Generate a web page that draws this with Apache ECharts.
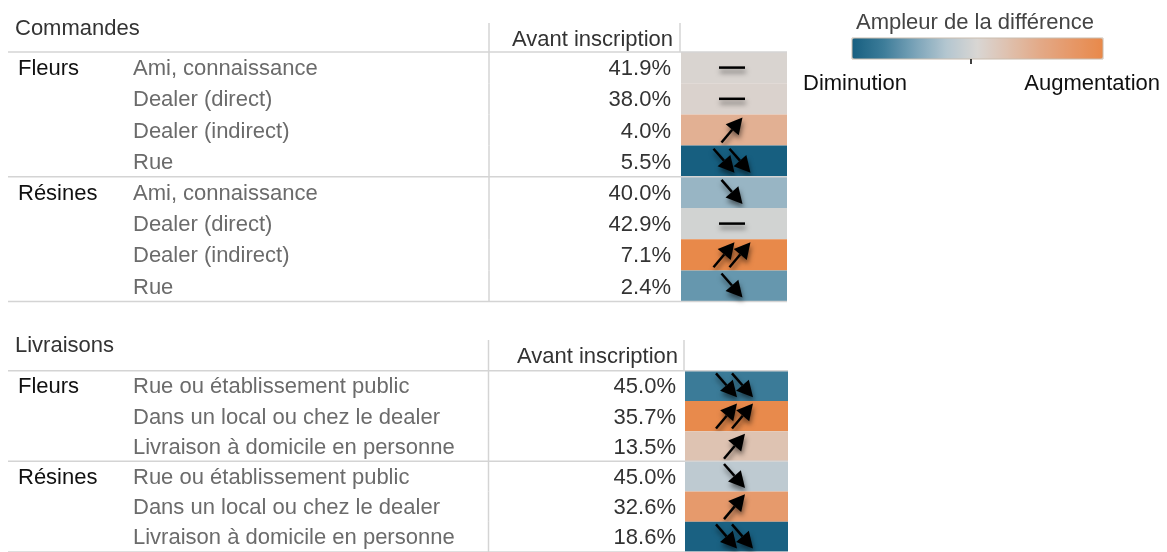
<!DOCTYPE html>
<html>
<head>
<meta charset="utf-8">
<title>Commandes et livraisons</title>
<script src="https://cdn.jsdelivr.net/npm/echarts/dist/echarts.min.js"></script>
<style>
html, body { margin: 0; padding: 0; background: #fff; }
#chart { width: 1167px; height: 552px; }
</style>
</head>
<body>
<div id="chart"></div>
<script>
// ---- données : commandes ----
var cmdGroups   = ['Fleurs', 'Fleurs', 'Fleurs', 'Fleurs', 'Résines', 'Résines', 'Résines', 'Résines'];
var cmdChannels = ['Ami, connaissance', 'Dealer (direct)', 'Dealer (indirect)', 'Rue',
                   'Ami, connaissance', 'Dealer (direct)', 'Dealer (indirect)', 'Rue'];
var cmdAvant    = [41.9, 38.0, 4.0, 5.5, 40.0, 42.9, 7.1, 2.4];
var cmdEcart    = [0.02, 0.04, 0.42, -1.0, -0.37, -0.05, 1.0, -0.58];   // ampleur de la différence
var cmdTendance = [0, 0, 1, -2, -1, 0, 2, -1];                          // nb de flèches (+ hausse / - baisse)

// ---- données : livraisons ----
var livGroups   = ['Fleurs', 'Fleurs', 'Fleurs', 'Résines', 'Résines', 'Résines'];
var livChannels = ['Rue ou établissement public', 'Dans un local ou chez le dealer', 'Livraison à domicile en personne',
                   'Rue ou établissement public', 'Dans un local ou chez le dealer', 'Livraison à domicile en personne'];
var livAvant    = [45.0, 35.7, 13.5, 45.0, 32.6, 18.6];
var livEcart    = [-0.76, 0.98, 0.22, -0.18, 0.72, -0.98];
var livTendance = [-2, 2, 1, -1, 1, -2];

var headerLabel = 'Avant inscription';
var legendTitle = 'Ampleur de la différence';
var legendEnds  = ['Diminution', 'Augmentation'];

var FONT = '"Liberation Sans", Arial, Helvetica, sans-serif';
var FS = 22;
var DY = 1.5; // petit décalage vertical du texte
var LINE = '#d4d4d4';
var SHADOW = { shadowBlur: 5, shadowOffsetX: 1, shadowOffsetY: 4, shadowColor: 'rgba(0,0,0,0.5)' };

var layoutCmd = { group: 18, channel: 133, pctRight: 671, cellLeft: 681, cellRight: 787, vline: 489, lineLeft: 8 };
var layoutLiv = { group: 18, channel: 133, pctRight: 676, cellLeft: 685, cellRight: 788, vline: 488.5, lineLeft: 8 };

function txt(x, y, s, color, align)
{
    return {
        type : 'text', x : x, y : y + DY, silent : true,
        style : { text : s, fill : color, align : align, verticalAlign : 'middle', fontSize : FS, fontFamily : FONT }
    };
}

function hline(x1, x2, y)
{
    return { type : 'line', silent : true, shape : { x1 : x1, y1 : y, x2 : x2, y2 : y }, style : { stroke : LINE, lineWidth : 1.5 } };
}

//flèche pleine de (x1,y1) vers (x2,y2)
function arrow(x1, y1, x2, y2)
{
    var a = Math.atan2(y2 - y1, x2 - x1);
    var hl = 16, hw = 8.5;
    var bx = x2 - hl * Math.cos(a), by = y2 - hl * Math.sin(a);
    var px = -Math.sin(a) * hw, py = Math.cos(a) * hw;
    return [
        { type : 'line', silent : true, shape : { x1 : x1, y1 : y1, x2 : bx, y2 : by },
          style : echarts.util.extend({ stroke : '#000', lineWidth : 2.5 }, SHADOW) },
        { type : 'polygon', silent : true, shape : { points : [[x2, y2], [bx + px, by + py], [bx - px, by - py]] },
          style : echarts.util.extend({ fill : '#000' }, SHADOW) }
    ];
}

function makeRenderItem(lay, groups, channels)
{
    return function (params, api) {
        var i = params.dataIndex;
        var cy = api.coord([0, api.value(0)])[1];
        var h = api.size([0, 1])[1];
        var top = cy - h / 2, bot = cy + h / 2;
        var cx = (lay.cellLeft + lay.cellRight) / 2 - 2;
        var kids = [];

        kids.push({ type : 'rect', shape : { x : lay.cellLeft, y : top, width : lay.cellRight - lay.cellLeft, height : h },
                    style : { fill : api.visual('color') } });
        kids.push({ type : 'line', silent : true, shape : { x1 : lay.vline, y1 : top, x2 : lay.vline, y2 : bot },
                    style : { stroke : LINE, lineWidth : 1.5 } });

        if (i === 0 || groups[i] !== groups[i - 1]) {
            kids.push(txt(lay.group, cy, groups[i], '#111', 'left'));
            kids.push(hline(lay.lineLeft, lay.cellRight, top));
        }
        if (i === groups.length - 1) {
            kids.push(hline(lay.lineLeft, lay.cellRight, bot));
        }
        kids.push(txt(lay.channel, cy, channels[i], '#6b6b6b', 'left'));
        kids.push(txt(lay.pctRight, cy, api.value(1).toFixed(1) + '%', '#333', 'right'));

        var t = api.value(3);
        if (t === 0) {
            kids.push({ type : 'line', silent : true, shape : { x1 : cx - 13, y1 : cy, x2 : cx + 13, y2 : cy },
                        style : echarts.util.extend({ stroke : '#000', lineWidth : 2.5 }, SHADOW) });
        } else {
            var offs = Math.abs(t) === 1 ? [0] : [-8, 8];
            for (var k = 0; k < offs.length; k++) {
                var x0 = cx + offs[k];
                var a = t > 0 ? arrow(x0 - 10.5, cy + 12.5, x0 + 10.5, cy - 12.5)
                              : arrow(x0 - 10.5, cy - 12.5, x0 + 10.5, cy + 11.5);
                kids = kids.concat(a);
            }
        }
        return { type : 'group', children : kids };
    };
}

function rows(avant, ecart, tendance)
{
    var out = [];
    for (var i = 0; i < avant.length; i++) {
        out.push([i, avant[i], ecart[i], tendance[i]]);
    }
    return out;
}

function indexes(n)
{
    var out = [];
    for (var i = 0; i < n; i++) out.push(i);
    return out;
}

function headerGraphics(titre, titleY, headerY, lineY, lay, vline2)
{
    return [
        txt(15, titleY, titre, '#333', 'left'),
        txt(lay.pctRight + 2, headerY, headerLabel, '#333', 'right'),
        { type : 'line', silent : true, shape : { x1 : lay.vline, y1 : titleY - 4, x2 : lay.vline, y2 : lineY }, style : { stroke : LINE, lineWidth : 1.5 } },
        { type : 'line', silent : true, shape : { x1 : vline2, y1 : titleY - 4, x2 : vline2, y2 : lineY }, style : { stroke : LINE, lineWidth : 1.5 } }
    ];
}

var myChart = echarts.init(document.getElementById('chart'));

var graphics = []
    .concat(headerGraphics('Commandes', 27, 38, 52, layoutCmd, 680))
    .concat(headerGraphics('Livraisons', 344, 355, 370.7, layoutLiv, 684))
    .concat([
        txt(975, 21, legendTitle, '#444', 'center'),
        txt(803, 82, legendEnds[0], '#111', 'left'),
        txt(1160, 82, legendEnds[1], '#111', 'right'),
        { type : 'rect', silent : true, z : 10, shape : { x : 852, y : 38, width : 251, height : 21 },
          style : { fill : 'none', stroke : '#c9bcae', lineWidth : 1 } },
        { type : 'line', silent : true, z : 10, shape : { x1 : 971, y1 : 59, x2 : 971, y2 : 64 },
          style : { stroke : '#000', lineWidth : 1.5 } }
    ]);

var options = {
    animation : false,
    backgroundColor : '#fff',
    grid : [
        { left : 0, right : 0, top : 52, height : 31.2 * cmdAvant.length },
        { left : 0, right : 0, top : 370.7, height : 31.2 * livAvant.length }
    ],
    xAxis : [
        { gridIndex : 0, type : 'value', min : 0, max : 1167, show : false },
        { gridIndex : 1, type : 'value', min : 0, max : 1167, show : false }
    ],
    yAxis : [
        { gridIndex : 0, type : 'category', data : indexes(cmdAvant.length), inverse : true, show : false },
        { gridIndex : 1, type : 'category', data : indexes(livAvant.length), inverse : true, show : false }
    ],
    visualMap : {
        type : 'continuous',
        orient : 'horizontal',
        min : -1,
        max : 1,
        dimension : 2,
        seriesIndex : [0, 1],
        left : 852,
        top : 38,
        padding : 0,
        itemWidth : 21,
        itemHeight : 251,
        calculable : false,
        hoverLink : false,
        inRange : {
            color : ['#175f80', '#3d7c99', '#7aa3b8', '#b3c6d0', '#d9d6d3', '#dfc0ad', '#e3a987', '#e69868', '#e8894a']
        }
    },
    graphic : graphics,
    series : [
        {
            name : 'Commandes',
            type : 'custom',
            xAxisIndex : 0,
            yAxisIndex : 0,
            encode : { x : 1, y : 0 },
            renderItem : makeRenderItem(layoutCmd, cmdGroups, cmdChannels),
            data : rows(cmdAvant, cmdEcart, cmdTendance)
        },
        {
            name : 'Livraisons',
            type : 'custom',
            xAxisIndex : 1,
            yAxisIndex : 1,
            encode : { x : 1, y : 0 },
            renderItem : makeRenderItem(layoutLiv, livGroups, livChannels),
            data : rows(livAvant, livEcart, livTendance)
        }
    ]
};

myChart.setOption(options);
</script>
</body>
</html>
